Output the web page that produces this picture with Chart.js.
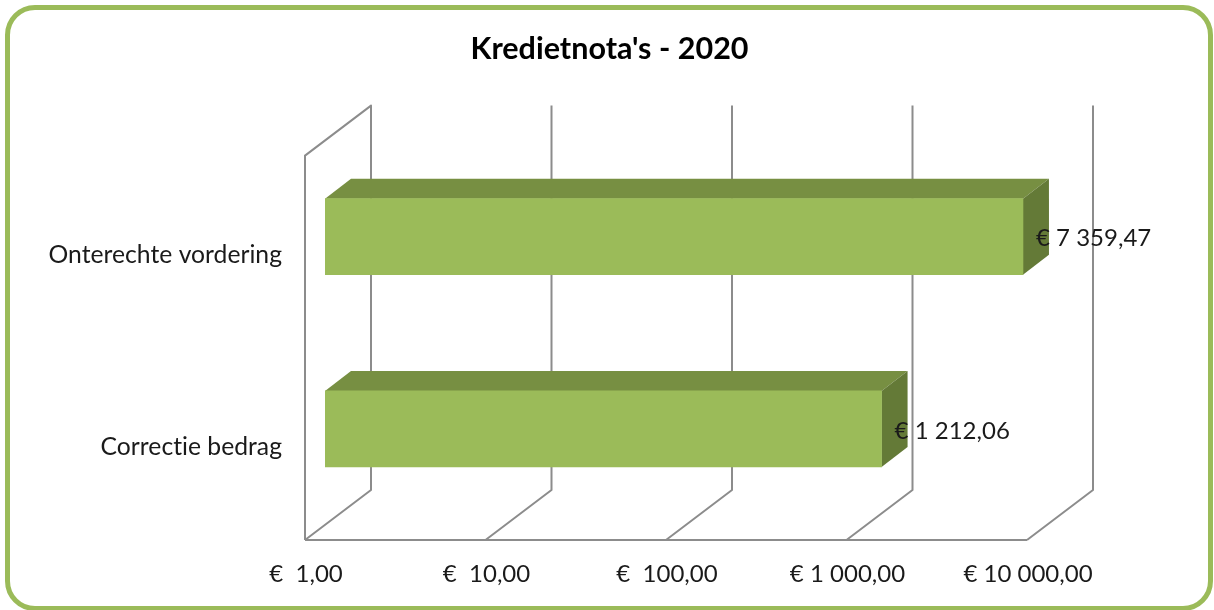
<!DOCTYPE html>
<html>
<head>
<meta charset="utf-8">
<title>Kredietnota's - 2020</title>
<script src="https://cdn.jsdelivr.net/npm/chart.js@4/dist/chart.umd.min.js"></script>
<style>
    html, body { margin: 0; padding: 0; background: #fff; overflow: hidden; }
    #frame {
        position: absolute; left: 5px; top: 5px; width: 1208px; height: 606px;
        box-sizing: border-box; border: 5px solid #9bbb59; border-radius: 30px;
    }
    #chartWrap { position: absolute; left: 0; top: 0; width: 1214px; height: 610px; }
</style>
</head>
<body>
<div id="frame"></div>
<div id="chartWrap"><canvas id="creditChart" width="1214" height="610"></canvas></div>
<script>
const chartTitle = "Kredietnota's - 2020";
const categories = ['Onterechte vordering', 'Correctie bedrag'];
const amounts = [7359.47, 1212.06];
const amountLabels = ['€ 7 359,47', '€ 1 212,06'];
const tickValues = [1, 10, 100, 1000, 10000];
const tickLabels = ['€  1,00', '€  10,00', '€  100,00', '€ 1 000,00', '€ 10 000,00'];

const FONT = 'Lato, Carlito, "Open Sans", sans-serif';
const GRID_COLOR = '#8c8c8c';

// fake 3D box: walls and bar faces are offset from the real chart area
const floorFront = { dx: -20, dy: 15 };
const floorBack = { dx: 46, dy: -35 };
const barDepth = { dx: 26, dy: -20 };

function polygon(ctx, pts, fill) {
    ctx.beginPath();
    pts.forEach((p, i) => i ? ctx.lineTo(p[0], p[1]) : ctx.moveTo(p[0], p[1]));
    ctx.closePath();
    ctx.fillStyle = fill;
    ctx.fill();
}

const box3d = {
    id: 'box3d',
    beforeDraw(chart) {
        // non-zero spacing switches off the "ti" ligature of Lato
        chart.ctx.letterSpacing = '0.01px';
    },
    beforeDatasetsDraw(chart) {
        const { ctx, chartArea, scales } = chart;
        const top = chartArea.top, bottom = chartArea.bottom;
        ctx.save();
        ctx.strokeStyle = GRID_COLOR;
        ctx.lineWidth = 2;
        ctx.lineJoin = 'round';
        tickValues.forEach((v, i) => {
            const x = scales.x.getPixelForValue(v);
            ctx.beginPath();
            ctx.moveTo(x + floorFront.dx, bottom + floorFront.dy);
            ctx.lineTo(x + floorBack.dx, bottom + floorBack.dy);
            ctx.lineTo(x + floorBack.dx, top + floorBack.dy);
            if (i === 0) {
                ctx.lineTo(x + floorFront.dx, top + floorFront.dy);
                ctx.lineTo(x + floorFront.dx, bottom + floorFront.dy);
            }
            ctx.stroke();
        });
        ctx.beginPath();
        ctx.moveTo(scales.x.getPixelForValue(tickValues[0]) + floorFront.dx, bottom + floorFront.dy);
        ctx.lineTo(scales.x.getPixelForValue(tickValues[tickValues.length - 1]) + floorFront.dx, bottom + floorFront.dy);
        ctx.stroke();

        // top and side faces of the bars
        chart.getDatasetMeta(0).data.forEach(bar => {
            const h = bar.height / 2;
            const l = bar.base, r = bar.x, t = bar.y - h, b = bar.y + h;
            const dx = barDepth.dx, dy = barDepth.dy;
            polygon(ctx, [[l, t], [l + dx, t + dy], [r + dx, t + dy], [r, t]], '#778f42');
            polygon(ctx, [[r, t], [r + dx, t + dy], [r + dx, b + dy], [r, b]], '#647a37');
        });
        ctx.restore();
    },
    afterDatasetsDraw(chart) {
        const { ctx } = chart;
        ctx.save();
        ctx.font = '24px ' + FONT;
        ctx.fillStyle = '#1a1a1a';
        ctx.textAlign = 'left';
        ctx.textBaseline = 'middle';
        chart.getDatasetMeta(0).data.forEach((bar, i) => {
            ctx.fillText(amountLabels[i], bar.x + 13, bar.y + 2);
        });
        ctx.restore();
    }
};

document.addEventListener('DOMContentLoaded', function() {
    new Chart(document.getElementById('creditChart'), {
        type: 'bar',
        data: {
            labels: categories,
            datasets: [{
                data: amounts,
                backgroundColor: '#9bbb59',
                borderWidth: 0,
                barThickness: 76
            }]
        },
        plugins: [box3d],
        options: {
            indexAxis: 'y',
            responsive: false,
            animation: false,
            layout: { padding: { left: 5 } },
            plugins: {
                legend: { display: false },
                tooltip: { enabled: false },
                title: {
                    display: true,
                    text: chartTitle,
                    color: '#000',
                    font: { family: FONT, size: 30.5, weight: 'bold', lineHeight: 1.2 },
                    padding: { top: 31, bottom: 73 }
                }
            },
            scales: {
                x: {
                    type: 'logarithmic',
                    min: tickValues[0],
                    max: tickValues[tickValues.length - 1],
                    afterBuildTicks(scale) {
                        scale.ticks = tickValues.map(v => ({ value: v, major: true }));
                    },
                    afterFit(scale) { scale.height = 85; },
                    grid: { display: false },
                    border: { display: false },
                    ticks: {
                        autoSkip: false,
                        maxRotation: 0,
                        padding: 27,
                        labelOffset: -19,
                        color: '#1a1a1a',
                        font: { family: FONT, size: 24 },
                        callback: value => tickLabels[tickValues.indexOf(value)]
                    }
                },
                y: {
                    afterFit(scale) { scale.width = 320; },
                    grid: { display: false },
                    border: { display: false },
                    ticks: {
                        padding: 35,
                        labelOffset: 18,
                        color: '#1a1a1a',
                        font: { family: FONT, size: 24.7 }
                    }
                },
                // empty axis, only reserves the room right of the plot so the title stays centred on the page
                rightGap: {
                    position: 'right',
                    axis: 'y',
                    afterFit(scale) { scale.width = 167; },
                    grid: { display: false },
                    border: { display: false },
                    ticks: { display: false }
                }
            }
        }
    });
});
</script>
</body>
</html>
